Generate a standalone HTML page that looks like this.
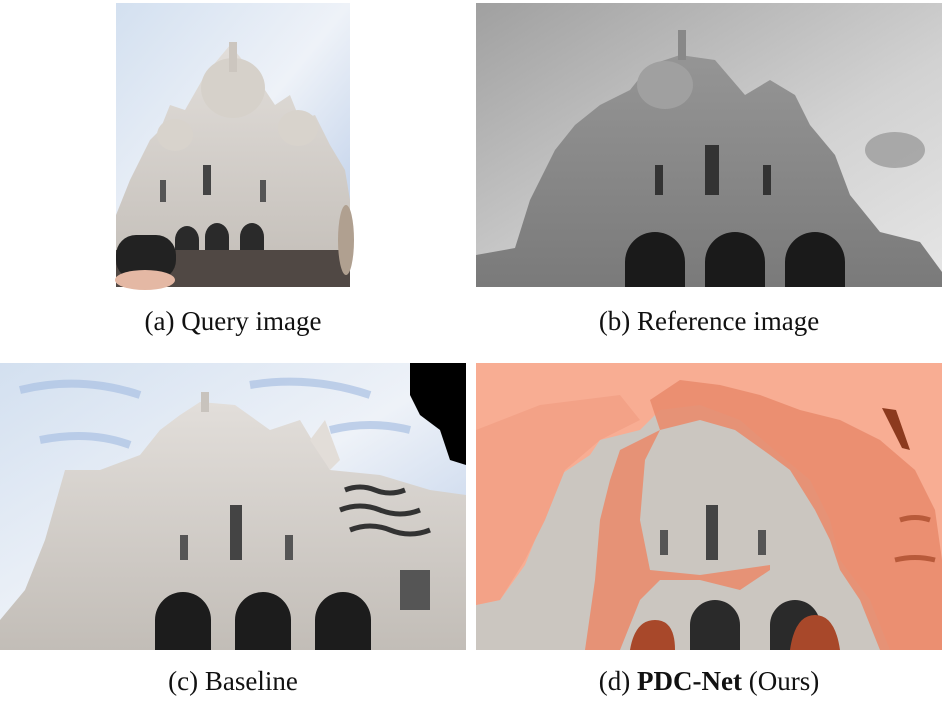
<!DOCTYPE html>
<html><head><meta charset="utf-8"><style>
html,body{margin:0;padding:0;background:#fff;width:948px;height:702px;overflow:hidden}
svg{display:block}
text{font-family:"Liberation Serif",serif;font-size:27px;fill:#111}
</style></head><body>
<svg width="948" height="702" viewBox="0 0 948 702" xmlns="http://www.w3.org/2000/svg">
<defs>
<linearGradient id="sky" x1="0" y1="0" x2="1" y2="1"><stop offset="0" stop-color="#d3e0f0"/><stop offset="0.5" stop-color="#eef2f8"/><stop offset="1" stop-color="#b4c8e6"/></linearGradient>
<linearGradient id="grey" x1="0" y1="0" x2="1" y2="1"><stop offset="0" stop-color="#a0a0a0"/><stop offset="0.6" stop-color="#d2d2d2"/><stop offset="1" stop-color="#e6e6e6"/></linearGradient>
<linearGradient id="bld" x1="0" y1="0" x2="0" y2="1"><stop offset="0" stop-color="#e2deda"/><stop offset="1" stop-color="#c2bdb7"/></linearGradient>
<linearGradient id="bldg" x1="0" y1="0" x2="0" y2="1"><stop offset="0" stop-color="#959595"/><stop offset="1" stop-color="#7a7a7a"/></linearGradient>
</defs>

<!-- (a) -->
<rect x="116" y="3" width="234" height="284" fill="url(#sky)"/>
<path d="M116 287 L116 215 L130 180 L140 160 L150 140 L160 130 L170 105 L185 110 L205 75 L230 45 L255 75 L275 105 L290 95 L300 120 L315 115 L330 145 L345 170 L350 200 L350 287Z" fill="url(#bld)"/>
<ellipse cx="233" cy="88" rx="32" ry="30" fill="#d6d1ca"/>
<ellipse cx="175" cy="135" rx="18" ry="16" fill="#d8d3cc"/>
<ellipse cx="298" cy="128" rx="20" ry="18" fill="#d8d3cc"/>
<rect x="229" y="42" width="8" height="30" fill="#ccc6bf"/>
<rect x="203" y="165" width="8" height="30" fill="#444"/><rect x="160" y="180" width="6" height="22" fill="#555"/><rect x="260" y="180" width="6" height="22" fill="#555"/>
<path d="M175 240 a12 14 0 0 1 24 0 v20 h-24z M205 237 a12 14 0 0 1 24 0 v22 h-24z M240 237 a12 14 0 0 1 24 0 v22 h-24z" fill="#2a2a2a"/>
<rect x="116" y="250" width="234" height="37" fill="#504844"/>
<rect x="116" y="235" width="60" height="45" fill="#222" rx="20"/>
<ellipse cx="145" cy="280" rx="30" ry="10" fill="#e4b8a4"/>
<ellipse cx="346" cy="240" rx="8" ry="35" fill="#b0a090"/>

<!-- (b) -->
<rect x="476" y="3" width="466" height="284" fill="url(#grey)"/>
<path d="M476 287 L476 255 L515 248 L530 200 L555 150 L575 125 L600 105 L630 90 L650 65 L680 55 L715 60 L745 95 L770 80 L795 95 L810 125 L835 155 L850 195 L880 232 L920 242 L942 272 L942 287Z" fill="url(#bldg)"/>
<ellipse cx="665" cy="85" rx="28" ry="24" fill="#a0a0a0"/>
<rect x="678" y="30" width="8" height="30" fill="#888"/>
<path d="M625 287 v-25 a30 30 0 0 1 60 0 v25z M705 287 v-25 a30 30 0 0 1 60 0 v25z M785 287 v-25 a30 30 0 0 1 60 0 v25z" fill="#1a1a1a"/>
<rect x="705" y="145" width="14" height="50" fill="#333"/>
<rect x="655" y="165" width="8" height="30" fill="#333"/><rect x="763" y="165" width="8" height="30" fill="#333"/>
<ellipse cx="895" cy="150" rx="30" ry="18" fill="#888" opacity="0.6"/>

<!-- (c) -->
<rect x="0" y="363" width="466" height="287" fill="url(#sky)"/>
<path d="M20 390 q60 -15 120 5 M250 385 q60 -10 120 10 M40 440 q50 -10 90 5 M330 430 q40 -10 80 0" stroke="#a9c0e2" stroke-width="8" fill="none" opacity="0.7"/>
<path d="M0 650 L0 620 L25 590 L45 540 L65 470 L100 470 L140 455 L160 430 L180 415 L200 402 L235 405 L270 430 L300 420 L330 470 L380 475 L430 490 L466 495 L466 650Z" fill="url(#bld)"/>
<rect x="201" y="392" width="8" height="20" fill="#c8c3bd"/>
<path d="M310 440 L325 420 L340 460 L330 470Z" fill="#e2ddd8"/>
<path d="M155 650 v-30 a28 28 0 0 1 56 0 v30z M235 650 v-30 a28 28 0 0 1 56 0 v30z M315 650 v-30 a28 28 0 0 1 56 0 v30z" fill="#1c1c1c"/>
<rect x="230" y="505" width="12" height="55" fill="#444"/><rect x="180" y="535" width="8" height="25" fill="#555"/><rect x="285" y="535" width="8" height="25" fill="#555"/>
<path d="M340 510 q20 -8 40 0 t40 0 M350 530 q20 -8 40 0 t40 0 M345 490 q15 -6 30 0 t30 0" stroke="#333" stroke-width="5" fill="none"/>
<rect x="400" y="570" width="30" height="40" fill="#555"/>
<path d="M410 363 L466 363 L466 465 L450 460 L440 430 L420 415 L410 395Z" fill="#000"/>

<!-- (d) -->
<rect x="476" y="363" width="466" height="287" fill="#f8ad93"/>
<!-- building grey -->
<path d="M476 650 L476 605 L500 600 L525 565 L545 515 L560 475 L590 455 L600 440 L640 430 L660 410 L700 405 L740 420 L780 455 L810 480 L830 520 L840 560 L870 600 L890 650Z" fill="#cbc6c0"/>
<!-- darker orange ring -->
<path d="M650 400 L680 380 L720 385 L760 395 L800 410 L840 420 L880 440 L915 470 L935 510 L942 560 L942 650 L880 650 L860 600 L840 570 L830 540 L815 510 L790 470 L770 455 L770 570 L740 590 L700 580 L660 580 L640 600 L620 650 L585 650 L595 580 L600 520 L610 480 L620 450 L640 440 L660 430 Z" fill="#e98c6e" opacity="0.9"/>
<path d="M660 430 L700 420 L735 430 L770 455 L770 565 L700 575 L650 570 L640 520 L645 460Z" fill="#cbc6c0"/>
<path d="M476 430 L540 405 L620 395 L640 420 L600 440 L565 470 L545 520 L525 560 L500 600 L476 605Z" fill="#f3a287"/>
<path d="M690 650 v-25 a25 25 0 0 1 50 0 v25z M770 650 v-25 a25 25 0 0 1 50 0 v25z" fill="#2a2a2a"/>
<rect x="706" y="505" width="12" height="55" fill="#444"/><rect x="660" y="530" width="8" height="25" fill="#555"/><rect x="758" y="530" width="8" height="25" fill="#555"/>
<path d="M630 650 q5 -30 25 -30 q20 0 20 30z M790 650 q5 -35 25 -35 q20 0 25 35z" fill="#a8482a"/>
<path d="M882 408 L896 410 L910 450 L902 448Z" fill="#8c3a1e"/>
<path d="M900 520 q15 -5 30 0 M895 560 q20 -5 40 0" stroke="#b85a3a" stroke-width="5" fill="none"/>

<!-- captions -->
<text x="233" y="330" text-anchor="middle">(a) Query image</text>
<text x="709" y="330" text-anchor="middle">(b) Reference image</text>
<text x="233" y="690" text-anchor="middle">(c) Baseline</text>
<text x="709" y="690" text-anchor="middle">(d) <tspan font-weight="bold">PDC-Net</tspan> (Ours)</text>
</svg>
</body></html>
